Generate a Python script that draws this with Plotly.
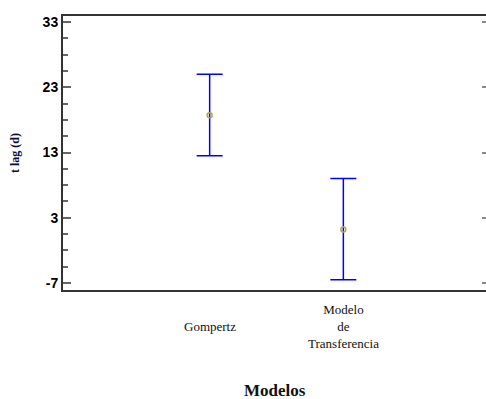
import plotly.graph_objects as go

categories = ["Gompertz", "Modelo<br>de<br>Transferencia"]
means = [18.7, 1.2]
upper = [25.0, 9.0]
lower = [12.5, -6.5]
y_ticks = [-7, 3, 13, 23, 33]
y_ticktext = ["-7", "3", "13", "23", "33"]

err_plus = [u - m for u, m in zip(upper, means)]
err_minus = [m - l for m, l in zip(means, lower)]
xpos = list(range(len(categories)))

fig = go.Figure()
fig.add_trace(go.Scatter(
    x=xpos, y=means, mode="markers",
    marker=dict(symbol="circle-open", size=5, color="#b8a838", line=dict(width=1.5)),
    error_y=dict(type="data", symmetric=False, array=err_plus, arrayminus=err_minus,
                 color="#0000ff", thickness=1.5, width=13),
    showlegend=False, hoverinfo="skip"))
fig.add_trace(go.Scatter(x=xpos, y=means, mode="none", yaxis="y2",
                         showlegend=False, hoverinfo="skip"))

for i, lab in enumerate(categories):
    fig.add_annotation(x=xpos[i], y=-0.135, xref="x", yref="paper", text=lab,
                       showarrow=False, yanchor="middle",
                       font=dict(family="Liberation Serif", size=13, color="#111"))

fig.add_annotation(x=0.5, y=-0.365, xref="paper", yref="paper", text="<b>Modelos</b>",
                   showarrow=False, yanchor="middle",
                   font=dict(family="Liberation Serif", size=17, color="#111"))

fig.update_layout(
    width=486, height=399,
    margin=dict(l=63, r=0, t=16, b=109),
    paper_bgcolor="white", plot_bgcolor="white",
    xaxis=dict(range=[-1.097, 2.067], showticklabels=False, ticks="",
               showgrid=False, zeroline=False, showline=True, mirror=True,
               linecolor="#333", linewidth=2),
    yaxis=dict(range=[-8.07, 33.92], tickvals=y_ticks, ticktext=y_ticktext,
               ticks="inside", ticklen=8,
               tickcolor="#666", tickwidth=1.5,
               minor=dict(dtick=2.5, tick0=3, ticks="inside", ticklen=5,
                          tickcolor="#666", tickwidth=1.5, showgrid=False),
               showgrid=False, zeroline=False, showline=True, linecolor="#333", linewidth=2,
               tickfont=dict(family="Liberation Sans", size=14, color="#000", weight="bold"),
               title=dict(text="<b>t lag (d)</b>", standoff=20,
                          font=dict(family="Liberation Serif", size=12, color="#0a0a3c"))),
    yaxis2=dict(overlaying="y", side="right", matches="y", tickvals=y_ticks,
                ticks="inside", ticklen=4, tickcolor="#888", tickwidth=1.5,
                showticklabels=False, showgrid=False, zeroline=False, showline=False),
)

fig.write_html("out.html")
